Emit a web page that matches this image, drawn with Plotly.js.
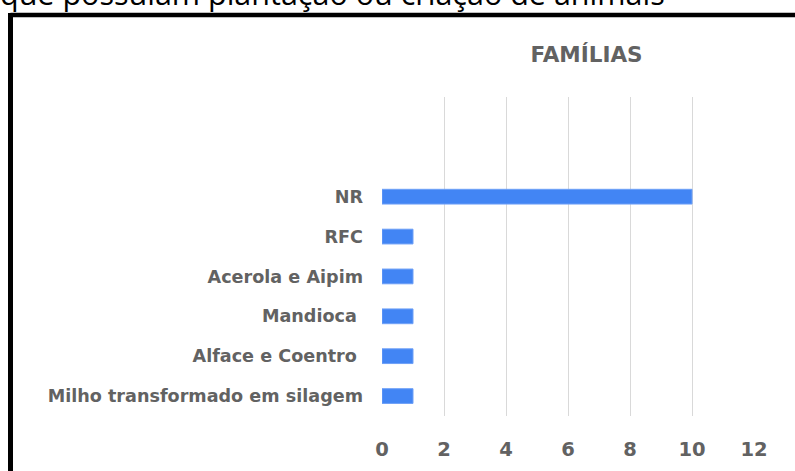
<!DOCTYPE html>
<html>
<head>
<meta charset="utf-8">
<script src="https://cdn.plot.ly/plotly-3.0.1.min.js"></script>
<style>
html,body{margin:0;padding:0;background:#fff;}
#chart{width:795px;height:471px;}
</style>
</head>
<body>
<div id="chart"></div>
<script>
// Data (bottom to top order as drawn)
const categories = ['Milho transformado em silagem', 'Alface e Coentro\u00a0', 'Mandioca\u00a0', 'Acerola e Aipim', 'RFC', 'NR'];
const values = [1, 1, 1, 1, 1, 10];
const xTicks = [0, 2, 4, 6, 8, 10, 12];
const chartTitle = 'FAMÍLIAS';
const pageText = 'que possuíam plantação ou criação de animais';

const W = 795, H = 471;
const L = 382, R = 41, T = 97, B = 55;
const pw = W - L - R, ph = H - T - B;
const px = v => (v - L) / pw;
const py = v => (H - B - v) / ph;

const FAM = '"DejaVu Sans", "Liberation Sans", Arial, sans-serif';

const trace = {
  type: 'bar',
  orientation: 'h',
  x: values,
  y: categories,
  width: 0.37,
  marker: {color: '#4285F4', line: {color: '#6fa0f7', width: 1}},
  hoverinfo: 'none'
};

const layout = {
  width: W, height: H,
  margin: {l: L, r: R, t: T, b: B, pad: 0},
  paper_bgcolor: '#fff', plot_bgcolor: '#fff',
  showlegend: false,
  font: {family: FAM, size: 17, color: '#626262'},
  title: {
    text: chartTitle,
    font: {family: FAM, size: 21.5, color: '#626262', weight: 'bold'},
    x: 586.5 / W, xref: 'container', xanchor: 'center',
    y: 1 - 54 / H, yref: 'container', yanchor: 'middle'
  },
  xaxis: {
    range: [0, 12],
    tickvals: xTicks,
    ticktext: xTicks.map(String),
    showgrid: true, gridcolor: '#d9d9d9', gridwidth: 1,
    zeroline: false, showline: false,
    ticks: '', ticklabelstandoff: 19,
    tickfont: {family: FAM, size: 19.5, color: '#626262', weight: 'bold'},
    fixedrange: true
  },
  yaxis: {
    type: 'category',
    categoryorder: 'array',
    categoryarray: categories,
    range: [-0.5, 7.5],
    showgrid: false, zeroline: false, showline: false,
    ticks: '', ticklabelstandoff: 18,
    tickfont: {family: FAM, size: 17.6, color: '#626262', weight: 'bold'},
    fixedrange: true
  },
  shapes: [
    {type: 'line', xref: 'paper', yref: 'paper', x0: px(10.5), x1: px(800), y0: py(15), y1: py(15), line: {color: '#000', width: 4.5}},
    {type: 'line', xref: 'paper', yref: 'paper', x0: px(10.5), x1: px(10.5), y0: py(13), y1: py(480), line: {color: '#000', width: 5}}
  ],
  annotations: [
    {text: pageText, xref: 'paper', yref: 'paper', x: px(-2), xanchor: 'left', y: py(16), yanchor: 'bottom',
     showarrow: false, font: {family: '"Open Sans", "Liberation Sans", sans-serif', size: 30.5, color: '#000', weight: 'normal'}}
  ]
};

Plotly.newPlot('chart', [trace], layout, {displayModeBar: false, staticPlot: true});
</script>
</body>
</html>
